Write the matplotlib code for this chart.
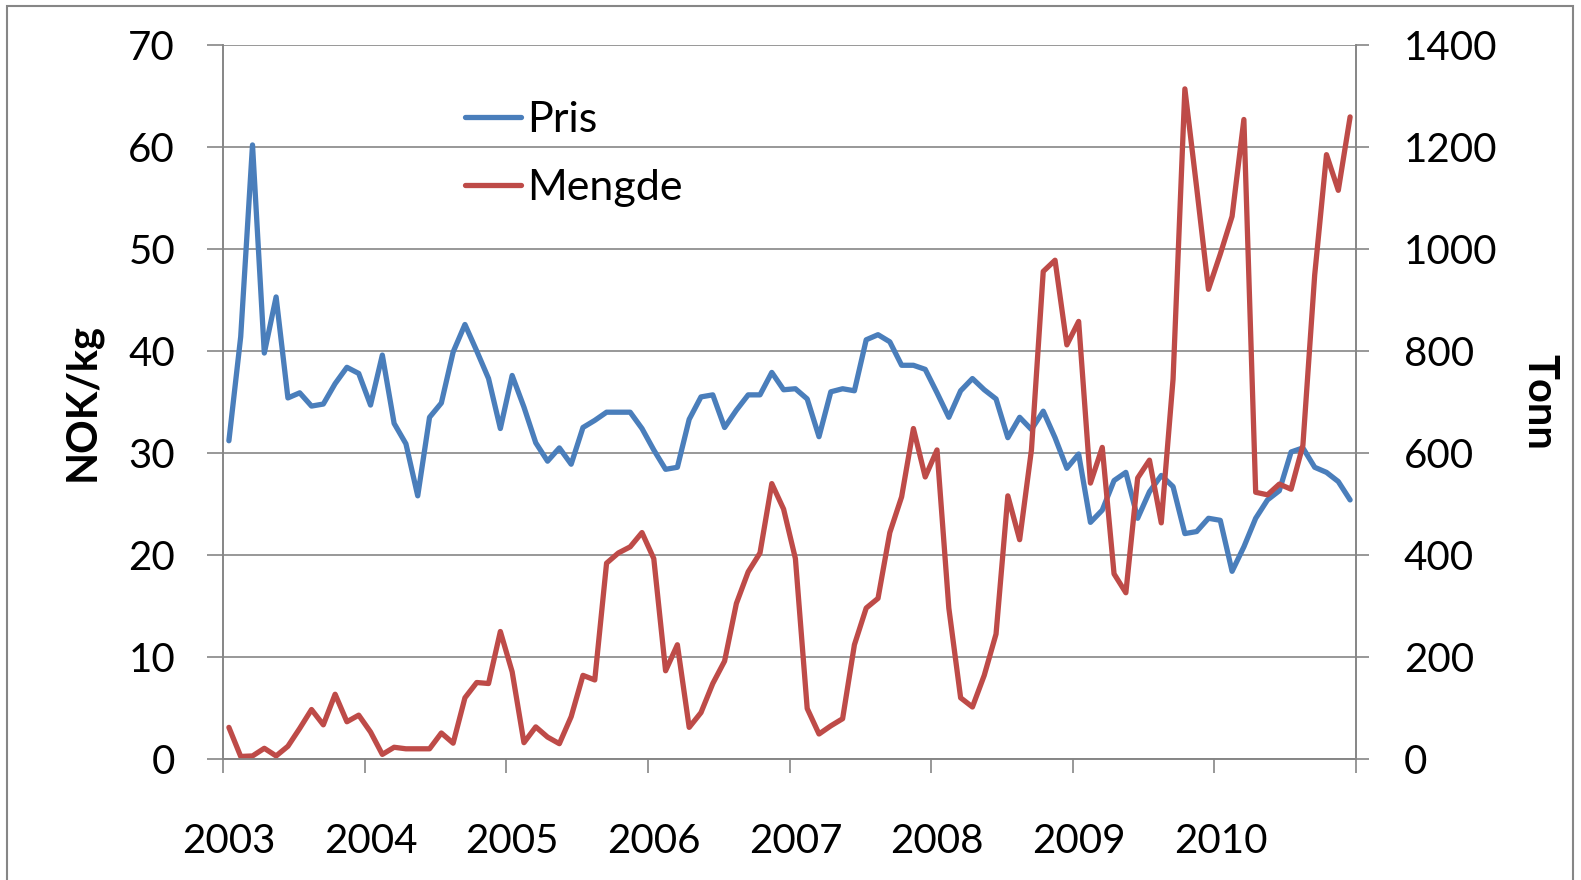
import numpy as np
import matplotlib
matplotlib.use("Agg")
import matplotlib.pyplot as plt
from matplotlib.patches import Rectangle

plt.rcParams['font.family'] = ['Lato', 'DejaVu Sans']

# monthly data 2003-2010
startAar = 2003
aarLabels = ['2003', '2004', '2005', '2006', '2007', '2008', '2009', '2010']

pris = [31.2, 41.4, 60.2, 39.8, 45.3, 35.4, 35.9, 34.6, 34.8, 36.8, 38.4, 37.8,
        34.7, 39.6, 32.9, 30.9, 25.8, 33.5, 34.9, 39.9, 42.6, 40.0, 37.3, 32.4,
        37.6, 34.5, 31.0, 29.2, 30.5, 28.9, 32.5, 33.2, 34.0, 34.0, 34.0, 32.4,
        30.3, 28.4, 28.6, 33.3, 35.5, 35.7, 32.5, 34.2, 35.7, 35.7, 37.9, 36.2,
        36.3, 35.3, 31.6, 36.0, 36.3, 36.1, 41.1, 41.6, 40.9, 38.6, 38.6, 38.2,
        35.9, 33.5, 36.1, 37.3, 36.2, 35.3, 31.5, 33.5, 32.3, 34.1, 31.5, 28.5,
        29.9, 23.2, 24.4, 27.3, 28.1, 23.6, 26.2, 27.8, 26.7, 22.1, 22.3, 23.6,
        23.4, 18.4, 20.8, 23.6, 25.4, 26.3, 30.1, 30.5, 28.6, 28.1, 27.2, 25.4]

mengde = [62, 5, 6, 21, 6, 25, 60, 97, 67, 127, 73, 86,
          53, 9, 23, 20, 20, 20, 51, 31, 120, 150, 148, 250,
          171, 32, 63, 43, 30, 83, 164, 155, 384, 404, 416, 444,
          393, 173, 224, 62, 91, 148, 192, 305, 367, 404, 540, 490,
          393, 99, 49, 65, 79, 224, 296, 315, 444, 514, 648, 553,
          606, 296, 120, 102, 164, 245, 516, 430, 606, 956, 978, 812,
          858, 541, 611, 363, 326, 551, 586, 463, 745, 1314, 1120, 921,
          990, 1064, 1254, 523, 518, 539, 529, 615, 949, 1185, 1115, 1259]

blaa = '#4A7EBB'
roed = '#BE4B48'
graa = '#868686'

x = startAar + (np.arange(len(pris)) + 0.5) / 12.0
aarTicks = np.arange(startAar, startAar + len(aarLabels) + 1)

fig = plt.figure(figsize=(15.81, 8.80), dpi=100)
ax = fig.add_axes([223/1581, 1 - 759/880, (1356 - 223)/1581, (759 - 45)/880])
ax2 = ax.twinx()

ax.plot(x, pris, color=blaa, lw=3.8, label='Pris', solid_joinstyle='round', solid_capstyle='round')
ax2.plot(x, mengde, color=roed, lw=3.8, label='Mengde', solid_joinstyle='round', solid_capstyle='round')

ax.set_xlim(startAar, startAar + len(aarLabels))
ax.set_ylim(0, 70)
ax2.set_ylim(0, 1400)
ax.set_yticks(np.arange(0, 71, 10))
ax2.set_yticks(np.arange(0, 1401, 200))

# streker ved aarsskiftet, aarstallene litt til hoyre (som i Excel)
ax.set_xticks(aarTicks)
ax.set_xticklabels([])
ax.set_xticks(aarTicks[:-1] + 0.043, minor=True)
ax.set_xticklabels(aarLabels, minor=True)

ax.grid(axis='y', color=graa, lw=1.2)
ax.set_axisbelow(True)

for a in (ax, ax2):
    a.spines['top'].set_visible(False)
    for s in ('left', 'right', 'bottom'):
        a.spines[s].set_color(graa)
        a.spines[s].set_linewidth(1.2)

ax.tick_params(axis='y', length=11.5, width=1.2, color=graa, pad=23, labelsize=29)
ax2.tick_params(axis='y', length=9.5, width=1.2, color=graa, pad=25, labelsize=29)
ax.tick_params(axis='x', which='major', length=10, width=1.2, color=graa)
ax.tick_params(axis='x', which='minor', length=0, pad=46, labelsize=29)

ax.set_ylabel('NOK/kg', fontsize=30, fontweight='bold')
ax.yaxis.set_label_coords(-0.107, 0.5)
ax2.set_ylabel('Tonn', fontsize=30, fontweight='bold', rotation=-90, va='center')
ax2.yaxis.set_label_coords(1.162, 0.5)

h1, l1 = ax.get_legend_handles_labels()
h2, l2 = ax2.get_legend_handles_labels()
ax2.legend(h1 + h2, l1 + l2, loc='upper left', bbox_to_anchor=(0.198, 0.945),
           frameon=False, fontsize=31, handlelength=1.3, handletextpad=0.15,
           labelspacing=0.68, borderaxespad=0)

fig.patches.append(Rectangle((7/1581, -0.1), (1573 - 7)/1581, 1.1 - 6/880,
                             transform=fig.transFigure, fill=False,
                             edgecolor=graa, lw=1.5))

fig.savefig('out.png', dpi=100)
